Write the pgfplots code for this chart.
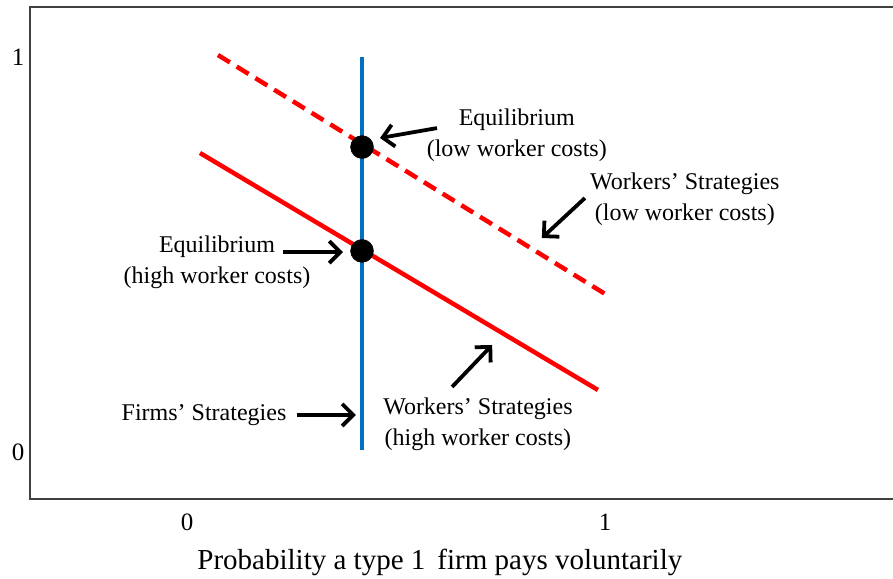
\documentclass[border=0pt]{standalone}
\usepackage{fontspec}
\setmainfont{Liberation Serif}
\usepackage{pgfplots}
\pgfplotsset{compat=1.18}
\usetikzlibrary{arrows.meta}
\begin{document}
\begin{tikzpicture}
\begin{axis}[
  x=418pt, y=395pt,
  xmin=-0.3756, xmax=1.689, ymin=-0.119, ymax=1.1266,
  axis line style={draw=none},
  xtick={0,1}, ytick={0,1},
  major tick length=0pt,
  /pgf/number format/assume math mode=true,
  tick label style={font=\fontsize{25}{28}\selectfont},
  yticklabel style={xshift=-2pt},
  xticklabel style={yshift=-11pt},
  clip=false,
]
\draw[line width=1.5pt, color=black!75] (axis cs:1.689,1.1266) -- (axis cs:-0.3756,1.1266) -- (axis cs:-0.3756,-0.119) -- (axis cs:1.689,-0.119);
\addplot[color=red, line width=4.5pt, dash pattern=on 14pt off 8pt] coordinates {(0.074,1.005) (1.005,0.397)};
\addplot[color=red, line width=4.5pt] coordinates {(0.031,0.757) (0.983,0.157)};
\addplot[color={rgb,255:red,0;green,112;blue,192}, line width=3.5pt] coordinates {(0.4187,1.0) (0.4187,0.005)};
\addplot[only marks, mark=*, mark size=11.5pt, color=black] coordinates {(0.4187,0.772) (0.4187,0.509)};
\begin{scope}[line width=3.8pt, -{Straight Barb[length=11pt,width=22pt,line width=3.8pt]}]
\draw (axis cs:0.598,0.820) -- (axis cs:0.4617,0.7949);
\draw (axis cs:0.952,0.643) -- (axis cs:0.849,0.5418);
\draw (axis cs:0.230,0.506) -- (axis cs:0.373,0.506);
\draw (axis cs:0.263,0.0937) -- (axis cs:0.404,0.0937);
\draw (axis cs:0.634,0.1646) -- (axis cs:0.730,0.2709);
\end{scope}
\begin{scope}[every node/.style={align=center, font=\fontsize{24}{31}\selectfont, inner sep=0pt}]
\node at (axis cs:0.789,0.8025) {Equilibrium\\(low worker costs)};
\node at (axis cs:1.191,0.6405) {Workers’ Strategies\\(low worker costs)};
\node at (axis cs:0.0718,0.481) {Equilibrium\\(high worker costs)};
\node at (axis cs:0.0407,0.0937) {Firms’ Strategies};
\node at (axis cs:0.696,0.0709) {Workers’ Strategies\\(high worker costs)};
\node[font=\fontsize{29}{32}\selectfont] at (axis cs:0.605,-0.2785) {Probability a type 1 \,firm pays voluntarily};
\end{scope}
\coordinate (BL) at (axis cs:-0.4474,-0.3215);
\coordinate (TR) at (axis cs:1.689,1.1443);
\end{axis}
\pgfresetboundingbox
\path[use as bounding box] (BL) rectangle (TR);
\end{tikzpicture}
\end{document}
